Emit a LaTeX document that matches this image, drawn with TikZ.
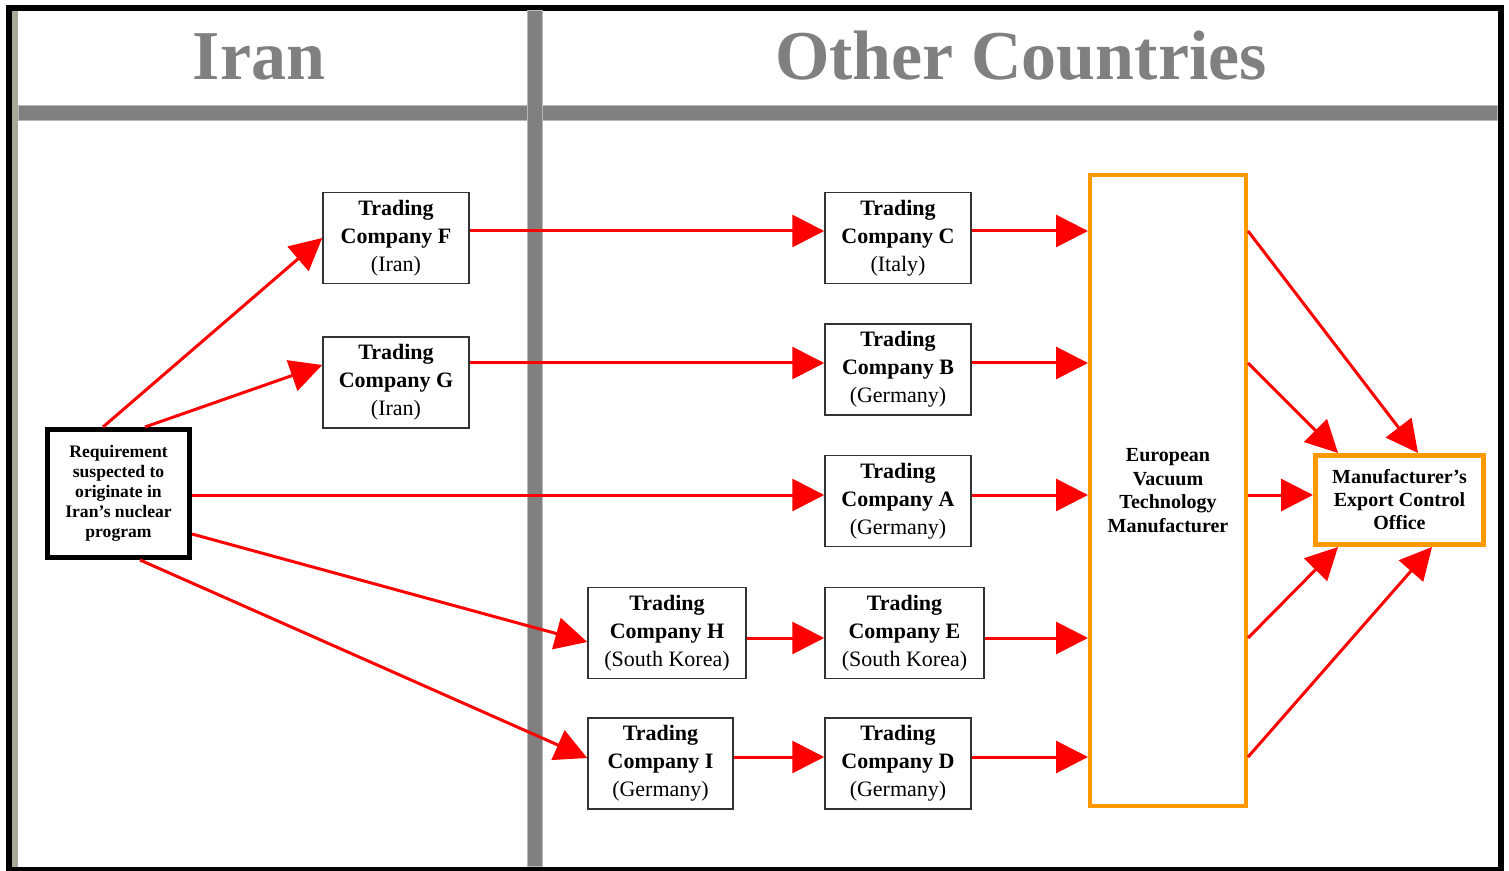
\documentclass[tikz,border=0pt]{standalone}
\usepackage{fontspec}
\setmainfont{Liberation Serif}
\usetikzlibrary{arrows.meta}
\definecolor{myred}{HTML}{FF0000}
\definecolor{myorange}{HTML}{FF9900}
\definecolor{bandgray}{HTML}{808080}
\definecolor{bandedge}{HTML}{B8B8B8}
\definecolor{beige}{HTML}{AAA899}
\begin{document}
\begin{tikzpicture}[x=0.5pt,y=-0.5pt,
  tbox/.style={draw=black!80, line width=0.75pt, fill=white, align=center,
    inner sep=0pt, minimum width=#1, minimum height=45.5pt,
    font=\fontsize{11}{14}\selectfont},
  arr/.style={draw=myred, line width=1.5pt, -{Triangle[length=16pt,width=16pt]}},
  band/.style={fill=bandgray, draw=bandedge, line width=0.5pt},
  header/.style={anchor=base, text=bandgray, font=\fontsize{35}{35}\selectfont\bfseries}]
\useasboundingbox (0,0) rectangle (1509,871);
\fill[white] (0,0) rectangle (1509,871);
% frame
\draw[line width=3pt] (8.5,8) rectangle (1500.5,869.5);
\draw[beige, line width=3pt] (14.5,11) -- (14.5,866.5);
% gray bands
\path[band] (18,106) rectangle (1497,121);
\path[band] (527,11) rectangle (542,866.5);
% headers
\node[header] (hIran) at (259,80) {Iran};
\node[header] (hOther) at (1021,80) {Other Countries};
% nodes
\node[draw=black, line width=2.5pt, fill=white, align=center, inner sep=0pt,
  minimum width=71pt, minimum height=64pt, font=\fontsize{8.8}{10}\selectfont\bfseries]
  (Req) at (118.5,493.5) {Requirement\\suspected to\\originate in\\Iran’s nuclear\\program};
\node[tbox=73pt] (F) at (396,238) {\textbf{Trading}\\\textbf{Company F}\\(Iran)};
\node[tbox=73pt] (G) at (396,382.5) {\textbf{Trading}\\\textbf{Company G}\\(Iran)};
\node[tbox=73pt] (C) at (898,238) {\textbf{Trading}\\\textbf{Company C}\\(Italy)};
\node[tbox=73pt] (B) at (898,369.5) {\textbf{Trading}\\\textbf{Company B}\\(Germany)};
\node[tbox=73pt] (A) at (898,501) {\textbf{Trading}\\\textbf{Company A}\\(Germany)};
\node[tbox=79pt] (H) at (667,633) {\textbf{Trading}\\\textbf{Company H}\\(South Korea)};
\node[tbox=79.5pt] (E) at (904.5,633) {\textbf{Trading}\\\textbf{Company E}\\(South Korea)};
\node[tbox=72.5pt] (I) at (660.5,763.5) {\textbf{Trading}\\\textbf{Company I}\\(Germany)};
\node[tbox=73pt] (D) at (898,763.5) {\textbf{Trading}\\\textbf{Company D}\\(Germany)};
\node[draw=myorange, line width=2pt, fill=white, align=center, inner sep=0pt,
  minimum width=78pt, minimum height=315.5pt, font=\fontsize{10}{11.75}\selectfont\bfseries]
  (Eur) at (1168,490.5) {European\\Vacuum\\Technology\\Manufacturer};
\node[draw=myorange, line width=2.5pt, fill=white, align=center, inner sep=0pt,
  minimum width=84pt, minimum height=44.5pt, font=\fontsize{10}{11.5}\selectfont\bfseries]
  (Exp) at (1399.5,500) {Manufacturer’s\\Export Control\\Office};
% connectors from requirement
\draw[arr] (Req.north -| 103,0) -- (F.west);
\draw[arr] (Req.north -| 145,0) -- (G.west |- 0,365);
\draw[arr] (Req.east |- 0,495) -- (A.west |- 0,495);
\draw[arr] (Req.east |- 0,534) -- (H.west |- 0,642);
\draw[arr] (Req.south -| 140,0) -- (I.west |- 0,758);
% middle connectors
\draw[arr] (F.east |- 0,231) -- (C.west |- 0,231);
\draw[arr] (G.east |- 0,363) -- (B.west |- 0,363);
\draw[arr] (H.east |- 0,638) -- (E.west |- 0,638);
\draw[arr] (I.east |- 0,757) -- (D.west |- 0,757);
% into manufacturer
\draw[arr] (C.east |- 0,231) -- (Eur.west |- 0,231);
\draw[arr] (B.east |- 0,363) -- (Eur.west |- 0,363);
\draw[arr] (A.east |- 0,495) -- (Eur.west |- 0,495);
\draw[arr] (E.east |- 0,638) -- (Eur.west |- 0,638);
\draw[arr] (D.east |- 0,757) -- (Eur.west |- 0,757);
% to export control office
\draw[arr] (Eur.east |- 0,231) -- (Exp.north -| 1418,0);
\draw[arr] (Eur.east |- 0,363) -- (Exp.north -| 1338,0);
\draw[arr] (Eur.east |- 0,495) -- (Exp.west |- 0,495);
\draw[arr] (Eur.east |- 0,638) -- (Exp.south -| 1338,0);
\draw[arr] (Eur.east |- 0,757) -- (Exp.south -| 1432,0);
\end{tikzpicture}
\end{document}
